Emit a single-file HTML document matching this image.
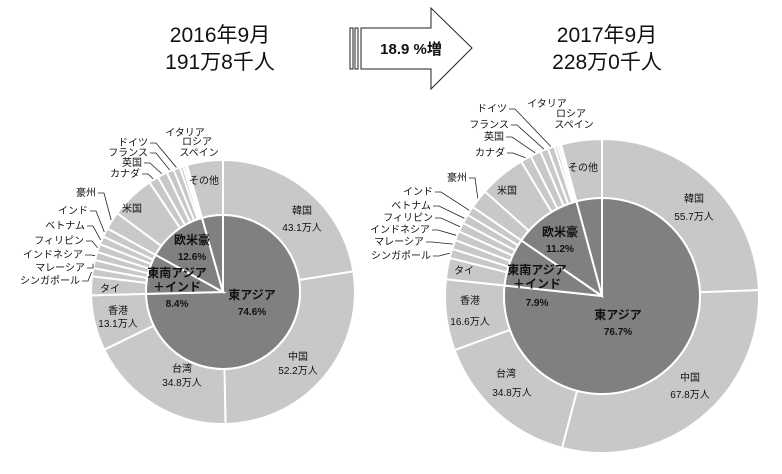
<!DOCTYPE html>
<html><head><meta charset="utf-8"><style>
body{margin:0;background:#fff;}
svg{display:block;font-family:"Liberation Sans","Noto Sans CJK JP",sans-serif;}
</style></head><body>
<svg id="s" width="782" height="474" viewBox="0 0 782 474" xmlns="http://www.w3.org/2000/svg">
<text x="220" y="42" font-size="21" text-anchor="middle" fill="#111">2016年9月</text>
<text x="220" y="69" font-size="21" text-anchor="middle" fill="#111">191万8千人</text>
<text x="607" y="42" font-size="21" text-anchor="middle" fill="#111">2017年9月</text>
<text x="607" y="69" font-size="21" text-anchor="middle" fill="#111">228万0千人</text>
<g fill="#fff" stroke="#222" stroke-width="1">
<rect x="350" y="28" width="3" height="41"/><rect x="355" y="28" width="3" height="41"/>
<polygon points="361,28 431,28 431,8 472,48 431,89 431,69 361,69"/>
</g>
<text x="411" y="54" font-size="15" font-weight="bold" text-anchor="middle" fill="#111">18.9 %増</text>
<g id="g"></g>
</svg>
<script>
const NS="http://www.w3.org/2000/svg",g=document.getElementById('g');
function el(t,a,p){const e=document.createElementNS(NS,t);for(const k in a)e.setAttribute(k,a[k]);(p||g).appendChild(e);return e;}
function pt(cx,cy,r,p){const a=p*2*Math.PI;return [cx+r*Math.sin(a),cy-r*Math.cos(a)];}
function wedge(cx,cy,r0,r1,p0,p1,fill){
 const la=(p1-p0)>0.5?1:0;const a=pt(cx,cy,r1,p0),b=pt(cx,cy,r1,p1);
 let d;
 if(r0==0)d=`M${cx},${cy}L${a}A${r1},${r1} 0 ${la} 1 ${b}Z`;
 else{const c=pt(cx,cy,r0,p1),e=pt(cx,cy,r0,p0);d=`M${a}A${r1},${r1} 0 ${la} 1 ${b}L${c}A${r0},${r0} 0 ${la} 0 ${e}Z`;}
 el('path',{d,fill,stroke:'#fff','stroke-width':2});
}
function txt(x,y,s,o){const t=el('text',Object.assign({x,y,'font-size':10,fill:'#111','text-anchor':'middle'},o||{}));t.textContent=s;return t;}
function chart(cx,cy,R,r,inner,outer,labels){
 let p=0;const mids={};
 outer.forEach(([n,v])=>{wedge(cx,cy,r,R,p/100,(p+v)/100,'#c8c8c8');mids[n]=(p+v/2)/100;p+=v;});
 p=0;inner.forEach(v=>{wedge(cx,cy,0,r,p/100,(p+v)/100,'#808080');p+=v;});
 labels.forEach(([n,x,y])=>{
  if(mids[n]===undefined)return;
  const t=txt(x,y,n,{'text-anchor':'end'});
  const q=pt(cx,cy,R+1,mids[n]);
  el('polyline',{points:`${x+2},${y-3} ${x+8},${y-3} ${q}`,fill:'none',stroke:'#222','stroke-width':0.8});
 });
}
chart(223,292,132,77,[74.6,8.4,12.6,4.4],
 [['韓国',22.5],['中国',27.2],['台湾',18.1],['香港',6.8],['タイ',2.3],['シンガポール',1],['マレーシア',1],['インドネシア',1],['フィリピン',1],['ベトナム',1],['インド',1.1],['豪州',2.2],['米国',5.4],['カナダ',1.2],['英国',1.2],['フランス',0.9],['ドイツ',0.8],['イタリア',0.4],['ロシア',0.3],['スペイン',0.2],['その他',4.4]],
 [['シンガポール',80,284],['マレーシア',85,271],['インドネシア',83,258],['フィリピン',84,244],['ベトナム',85,229],['インド',88,214],['豪州',96,196],['カナダ',140,177],['英国',142,166],['フランス',148,156],['ドイツ',148,146]]);
txt(185,136,'イタリア');txt(197,145,'ロシア');txt(199,156,'スペイン');
chart(602,296,157,98,[76.7,7.9,11.2,4.2],
 [['韓国',24.4],['中国',29.7],['台湾',15.3],['香港',7.3],['タイ',2.2],['シンガポール',0.95],['マレーシア',0.95],['インドネシア',0.95],['フィリピン',0.95],['ベトナム',0.95],['インド',0.95],['豪州',2],['米国',4.8],['カナダ',1.1],['英国',1.1],['フランス',0.8],['ドイツ',0.7],['イタリア',0.3],['ロシア',0.25],['スペイン',0.15],['その他',4.2]],
 [['シンガポール',431,259],['マレーシア',424,245],['インドネシア',430,233],['フィリピン',433,221],['ベトナム',431,209],['インド',433,195],['豪州',467,181],['カナダ',505,156],['英国',504,140],['フランス',509,128],['ドイツ',507,112]]);
txt(547,107,'イタリア');txt(571,117,'ロシア');txt(574,128,'スペイン');
// left labels
txt(110,292,'タイ');txt(132,212,'米国');txt(204,184,'その他');
txt(302,214,'韓国');txt(302,231,'43.1万人');
txt(298,360,'中国');txt(298,374,'52.2万人');
txt(182,372,'台湾');txt(182,386,'34.8万人');
txt(118,314,'香港');txt(118,327,'13.1万人');
txt(192,244,'欧米豪',{'font-size':12,'font-weight':'bold'});txt(192,260,'12.6%',{'font-weight':'bold'});
txt(177,277,'東南アジア',{'font-size':12,'font-weight':'bold'});txt(177,291,'＋インド',{'font-size':12,'font-weight':'bold'});txt(177,307,'8.4%',{'font-weight':'bold'});
txt(252,299,'東アジア',{'font-size':12,'font-weight':'bold'});txt(252,315,'74.6%',{'font-weight':'bold'});
// right labels
txt(464,274,'タイ');txt(507,194,'米国');txt(583,171,'その他');
txt(694,202,'韓国');txt(694,220,'55.7万人');
txt(690,381,'中国');txt(690,398,'67.8万人');
txt(506,377,'台湾');txt(512,396,'34.8万人');
txt(470,304,'香港');txt(470,325,'16.6万人');
txt(560,236,'欧米豪',{'font-size':12,'font-weight':'bold'});txt(560,252,'11.2%',{'font-weight':'bold'});
txt(537,274,'東南アジア',{'font-size':12,'font-weight':'bold'});txt(537,288,'＋インド',{'font-size':12,'font-weight':'bold'});txt(537,306,'7.9%',{'font-weight':'bold'});
txt(618,319,'東アジア',{'font-size':12,'font-weight':'bold'});txt(618,335,'76.7%',{'font-weight':'bold'});
</script>
</body></html>
